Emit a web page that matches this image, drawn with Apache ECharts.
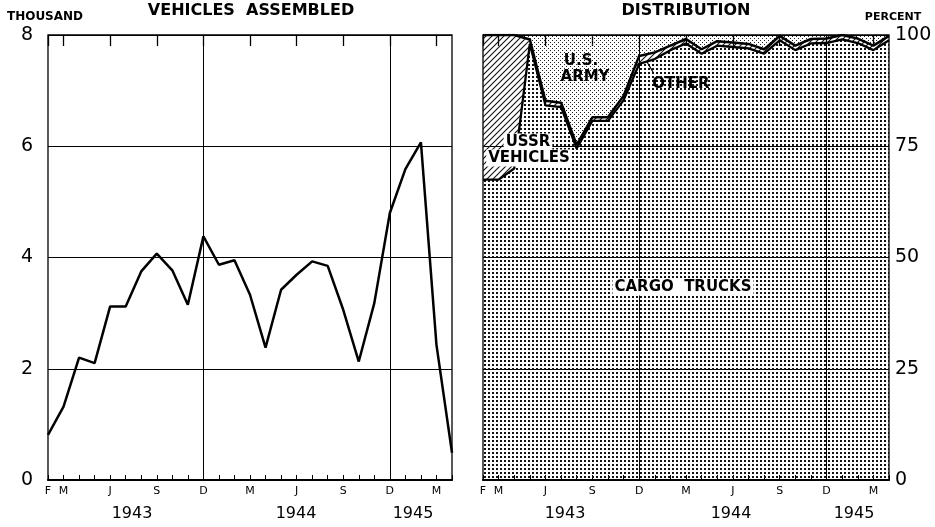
<!DOCTYPE html>
<html>
<head>
<meta charset="utf-8">
<title>Vehicles assembled and distribution</title>
<script src="https://cdn.jsdelivr.net/npm/echarts@6/dist/echarts.min.js"></script>
<style>
  html, body { margin: 0; padding: 0; background: #fff; }
  #chart { width: 935px; height: 527px; }
</style>
</head>
<body>
<div id="chart"></div>
<script>
// months Feb 1943 .. Apr 1945
const months = ['F', 'M', 'A', 'M', 'J', 'J', 'A', 'S', 'O', 'N', 'D',
  'J', 'F', 'M', 'A', 'M', 'J', 'J', 'A', 'S', 'O', 'N', 'D',
  'J', 'F', 'M', 'A'];
const labelledMonths = [0, 1, 4, 7, 10, 13, 16, 19, 22, 25];
const decembers = [10, 22];
const years = ['1943', '1944', '1945'];

// vehicles assembled, thousand
const assembled = [0.81, 1.32, 2.2, 2.1, 3.12, 3.12, 3.75, 4.07, 3.77, 3.15, 4.38,
  3.87, 3.95, 3.33, 2.38, 3.42, 3.69, 3.93, 3.85, 3.06, 2.13, 3.18, 4.8,
  5.59, 6.07, 2.43, 0.49];

// distribution, percent
const cargoTrucks = [67.5, 67.5, 70, 98, 84.2, 83.8, 74.5, 80.7, 80.7, 85.3, 93.5,
  94.6, 96.6, 98.1, 95.8, 97.6, 97.3, 97, 95.8, 98.8, 96.6, 98.1, 98.2,
  99, 98.2, 96.6, 98.8];
const ussrVehicles = [32.5, 32.5, 30, 0.5, 0, 0, 0, 0, 0, 0, 0,
  0, 0, 0, 0, 0, 0, 0, 0, 0, 0, 0, 0,
  0, 0, 0, 0];
const other = [0, 0, 0, 0.5, 1, 1, 0.8, 0.8, 0.8, 1, 1.8,
  1.5, 1, 1, 1, 1, 1, 1, 1, 1, 1, 1, 1,
  1, 1, 1, 1];
const usArmy = [0, 0, 0, 1, 14.8, 15.2, 24.7, 18.5, 18.5, 13.7, 4.7,
  3.9, 2.4, 0.9, 3.2, 1.4, 1.7, 2, 3.2, 0.2, 2.4, 0.9, 0.8,
  0, 0.8, 2.4, 0.2];

const FONT = 'DejaVu Sans';

// fill patterns
function tile(size, draw) {
  const c = document.createElement('canvas');
  c.width = size; c.height = size;
  draw(c.getContext('2d'));
  return { image: c, repeat: 'repeat' };
}
const denseDots = tile(4, g => { g.fillStyle = '#111'; g.fillRect(0, 0, 2, 2); });
const lightDots = tile(4, g => { g.fillStyle = '#222'; g.fillRect(0, 0, 1, 1); g.fillRect(2, 2, 1, 1); });
const hatch = tile(6, g => {
  g.strokeStyle = '#111'; g.lineWidth = 1.1;
  g.beginPath();
  g.moveTo(-1, 7); g.lineTo(7, -1);
  g.moveTo(-1, 1); g.lineTo(1, -1);
  g.moveTo(5, 7); g.lineTo(7, 5);
  g.stroke();
});

const chart = echarts.init(document.getElementById('chart'));

const axisText = { color: '#000', fontFamily: FONT };

function monthAxes(gridIndex) {
  return [{
    type: 'category', gridIndex, data: months, boundaryGap: false,
    axisLine: { lineStyle: { color: '#000', width: 2 } },
    axisTick: { inside: true, length: 5, interval: 0, lineStyle: { color: '#000' } },
    axisLabel: {
      ...axisText, fontSize: 11, margin: 6,
      interval: i => labelledMonths.includes(i)
    },
    splitLine: { show: true, interval: i => decembers.includes(i), lineStyle: { color: '#000', width: 1 } }
  }, {
    type: 'category', gridIndex, data: months, boundaryGap: false,
    axisLine: { show: false },
    axisTick: { inside: true, length: 11, interval: i => labelledMonths.includes(i), lineStyle: { color: '#000', width: 1.3 } },
    axisLabel: { show: false },
    splitLine: { show: false }
  }];
}

const yearX = [[132, 296, 413], [565, 731, 854]];
const yearText = [];
yearX.forEach(xs => xs.forEach((x, i) => {
  yearText.push({ type: 'text', x, y: 514, style: { text: years[i], font: '16px ' + FONT, fill: '#000', align: 'center', verticalAlign: 'middle' } });
}));

function label(text, x, y, bg) {
  return {
    type: 'text', x, y, z: 100,
    style: {
      text, font: 'bold 15px ' + FONT, fill: '#000', align: 'center', verticalAlign: 'middle',
      backgroundColor: bg ? '#fff' : null, padding: bg ? [1, 2] : 0
    }
  };
}

const option = {
  animation: false,
  backgroundColor: '#fff',
  grid: [
    { left: 48, top: 35, width: 404, height: 445, show: true, borderColor: '#000', borderWidth: 1.3 },
    { left: 483, top: 35, width: 406, height: 445, show: true, borderColor: '#000', borderWidth: 1.3 }
  ],
  xAxis: [...monthAxes(0), ...monthAxes(1)],
  yAxis: [{
    type: 'value', gridIndex: 0, min: 0, max: 8, interval: 2,
    axisLine: { show: false }, axisTick: { show: false },
    axisLabel: { ...axisText, fontSize: 19, margin: 15 },
    splitLine: { lineStyle: { color: '#000', width: 1 } }
  }, {
    type: 'value', gridIndex: 1, min: 0, max: 100, interval: 25, position: 'right',
    axisLine: { show: false }, axisTick: { show: false },
    axisLabel: { ...axisText, fontSize: 19, margin: 6 },
    splitLine: { lineStyle: { color: '#000', width: 1 } }
  }],
  series: [{
    name: 'Vehicles assembled', type: 'line', xAxisIndex: 0, yAxisIndex: 0,
    data: assembled, symbol: 'none',
    lineStyle: { color: '#000', width: 2.5 }
  }, {
    name: 'Cargo trucks', type: 'line', xAxisIndex: 2, yAxisIndex: 1, stack: 'share',
    data: cargoTrucks, symbol: 'none',
    lineStyle: { color: '#000', width: 2.3 }, areaStyle: { color: denseDots, opacity: 1 }
  }, {
    name: 'USSR vehicles', type: 'line', xAxisIndex: 2, yAxisIndex: 1, stack: 'share',
    data: ussrVehicles, symbol: 'none',
    lineStyle: { width: 0 }, areaStyle: { color: hatch, opacity: 1 }
  }, {
    name: 'Other', type: 'line', xAxisIndex: 2, yAxisIndex: 1, stack: 'share',
    data: other, symbol: 'none',
    lineStyle: { color: '#000', width: 2.5 }, areaStyle: { color: hatch, opacity: 1 }
  }, {
    name: 'U.S. Army', type: 'line', xAxisIndex: 2, yAxisIndex: 1, stack: 'share',
    data: usArmy, symbol: 'none',
    lineStyle: { width: 0 }, areaStyle: { color: lightDots, opacity: 1 }
  }],
  graphic: [
    { type: 'text', x: 45, y: 17, style: { text: 'THOUSAND', font: 'bold 12px ' + FONT, fill: '#000', align: 'center', verticalAlign: 'middle' } },
    { type: 'text', x: 251, y: 11, style: { text: 'VEHICLES  ASSEMBLED', font: 'bold 16px ' + FONT, fill: '#000', align: 'center', verticalAlign: 'middle' } },
    { type: 'text', x: 686, y: 11, style: { text: 'DISTRIBUTION', font: 'bold 16px ' + FONT, fill: '#000', align: 'center', verticalAlign: 'middle' } },
    { type: 'text', x: 893, y: 17, style: { text: 'PERCENT', font: 'bold 11px ' + FONT, fill: '#000', align: 'center', verticalAlign: 'middle' } },
    ...yearText,
    label('U.S.', 581, 61, false),
    label('ARMY', 585, 77, false),
    label('OTHER', 681, 84, false),
    label('USSR', 528, 142, true),
    label('VEHICLES', 529, 158, true),
    label('CARGO  TRUCKS', 683, 287, true),
    { type: 'line', z: 100, shape: { x1: 653, y1: 72, x2: 647, y2: 62 }, style: { stroke: '#000', lineWidth: 1.2 } }
  ]
};

chart.setOption(option);
</script>
</body>
</html>
